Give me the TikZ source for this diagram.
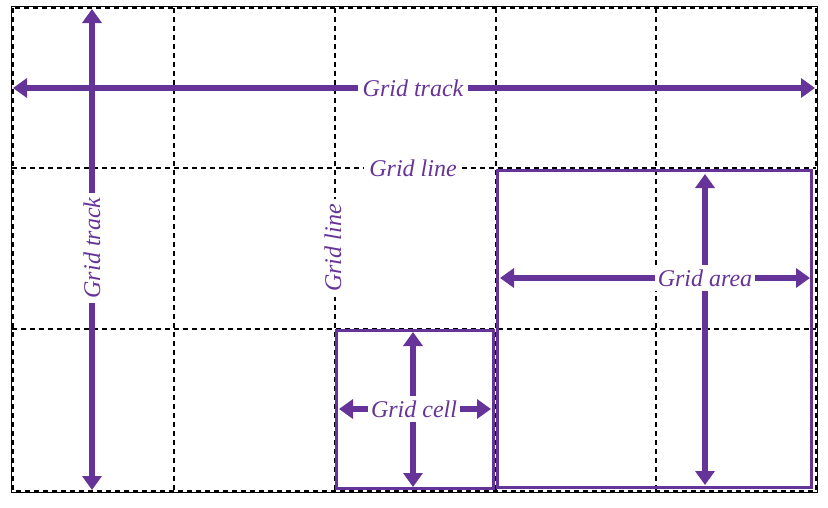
\documentclass[tikz,border=0pt]{standalone}
\usepackage{fontspec}
\setmainfont{Liberation Serif}
\usetikzlibrary{arrows.meta}
\definecolor{gridpurple}{HTML}{663399}
\tikzset{
  gridline/.style={black, line width=1.2pt, dash pattern=on 5pt off 4pt},
  gridarrow/.style={gridpurple, line width=6.5pt, {Triangle[width=19pt,length=14pt]}-{Triangle[width=19pt,length=14pt]}},
  gridbox/.style={gridpurple, line width=3pt},
  gridlabel/.style={fill=white, text=gridpurple, inner sep=5pt, font=\itshape\fontsize{24}{24}\selectfont}
}
\begin{document}
\begin{tikzpicture}[x=1pt,y=-1pt]
  \useasboundingbox (0,0) rectangle (828,507);

  % grid lines
  \foreach \gx in {174,335,496,656}
    \draw [gridline] (\gx,8) -- (\gx,491);
  \foreach \gy in {168,329}
    \draw [gridline] (12,\gy) -- (816,\gy);
  \draw [black, line width=1pt] (11.5,6.5) rectangle (817.5,492.5);
  \draw [gridline, line width=1.8pt] (13,8) rectangle (816,491);

  % cell and area
  \draw [gridbox] (336.5,330.5) rectangle (493.5,488.5);
  \draw [gridbox] (497.5,170.5) rectangle (811.5,487.5);

  % ends of the arrows
  \coordinate (trackW) at (13,88);
  \coordinate (trackE) at (815,88);
  \coordinate (trackN) at (92,9);
  \coordinate (trackS) at (92,490);
  \coordinate (cellW) at (339,409);
  \coordinate (cellE) at (491,409);
  \coordinate (cellN) at (413,332);
  \coordinate (cellS) at (413,487);
  \coordinate (areaW) at (500,278);
  \coordinate (areaE) at (810,278);
  \coordinate (areaN) at (705,174);
  \coordinate (areaS) at (705,485);

  \draw [gridarrow] (trackW) -- (trackE);
  \draw [gridarrow] (trackN) -- (trackS);
  \draw [gridarrow] (cellW) -- (cellE);
  \draw [gridarrow] (cellN) -- (cellS);
  \draw [gridarrow] (areaW) -- (areaE);
  \draw [gridarrow] (areaN) -- (areaS);

  % labels
  \node [gridlabel] (trackh) at (413,88) {Grid track};
  \node [gridlabel, rotate=90] (trackv) at (92,248) {Grid track};
  \node [gridlabel] (lineh) at (413,168) {Grid line};
  \node [gridlabel, rotate=90] (linev) at (333,248) {Grid line};
  \node [gridlabel, inner xsep=3pt] (cell) at (414,409) {Grid cell};
  \node [gridlabel, inner xsep=3pt] (area) at (705,278) {Grid area};
\end{tikzpicture}
\end{document}
